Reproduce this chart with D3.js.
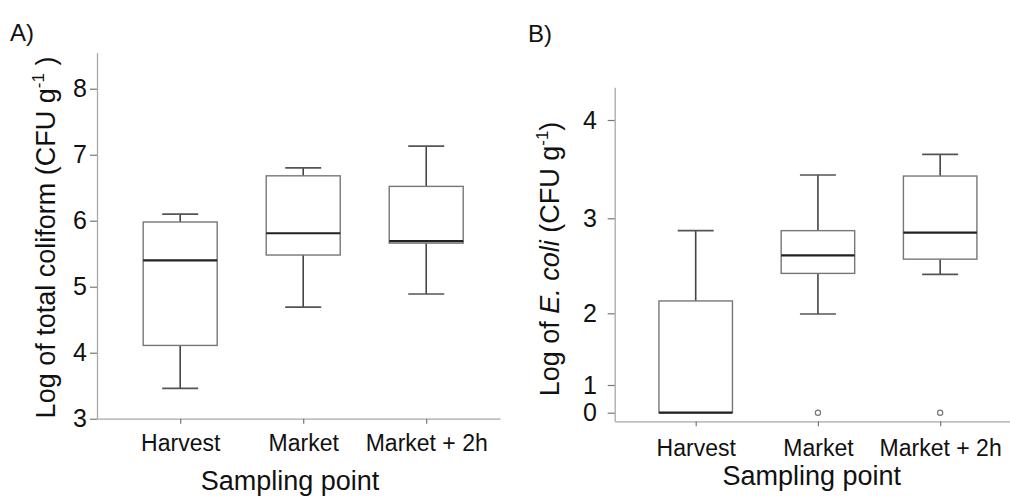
<!DOCTYPE html>
<html>
<head>
<meta charset="utf-8">
<script src="https://cdn.jsdelivr.net/npm/d3@7/dist/d3.min.js"></script>
<style>
  html, body { margin: 0; padding: 0; background: #fff; }
  svg { display: block; }
  text { font-family: "Liberation Sans", Arial, Helvetica, sans-serif; fill: #111; }
</style>
</head>
<body>
<svg id="chart" width="1010" height="500"></svg>
<script>
// Sampling points
const categories = ["Harvest", "Market", "Market + 2h"];

// Panel A: log total coliform (CFU g-1), five-number summaries
const coliformMin    = [3.46, 4.69, 4.89];
const coliformQ1     = [4.11, 5.48, 5.66];
const coliformMedian = [5.40, 5.81, 5.69];
const coliformQ3     = [5.98, 6.68, 6.52];
const coliformMax    = [6.10, 6.80, 7.13];
const coliformOutliers = [[], [], []];
const coliformTicks  = [3, 4, 5, 6, 7, 8];

// Panel B: log E. coli (CFU g-1), five-number summaries
const ecoliMin    = [0, 1.99, 2.41];
const ecoliQ1     = [0, 2.42, 2.57];
const ecoliMedian = [0, 2.61, 2.85];
const ecoliQ3     = [2.13, 2.87, 3.43];
const ecoliMax    = [2.87, 3.44, 3.65];
const ecoliOutliers = [[], [0], [0]];
const ecoliTicks  = [0, 1, 2, 3, 4];

const svg = d3.select("#chart");

function boxData(mins, q1s, meds, q3s, maxs, outs) {
  return categories.map((c, i) => ({
    cat: c, min: mins[i], q1: q1s[i], med: meds[i], q3: q3s[i], max: maxs[i], out: outs[i]
  }));
}

function drawPanel(opt) {
  const g = svg.append("g");
  const x = opt.x, y = opt.y;

  // axes
  const yAxis = d3.axisLeft(y).tickValues(opt.ticks).tickSize(7).tickSizeOuter(0)
    .tickPadding(opt.yPad).tickFormat(d3.format("d"));
  const ya = g.append("g").attr("transform", `translate(${opt.axisX},0)`).call(yAxis);
  ya.select(".domain").attr("stroke", "#a8a8a8").attr("stroke-width", 1.3);
  ya.selectAll(".tick line").attr("stroke", "#777").attr("stroke-width", 1.2);
  ya.selectAll(".tick text").attr("font-size", 25).attr("fill", "#111")
    .style("font-family", '"Liberation Sans", Arial, sans-serif');

  const xAxis = d3.axisBottom(x).tickSize(5).tickSizeOuter(0).tickPadding(opt.xPad);
  const xa = g.append("g").attr("transform", `translate(0,${opt.axisY})`).call(xAxis);
  xa.select(".domain").attr("stroke", "#a8a8a8").attr("stroke-width", 1.3);
  xa.selectAll(".tick line").attr("stroke", "#777").attr("stroke-width", 1.2);
  xa.selectAll(".tick text").attr("font-size", 23).attr("fill", "#111")
    .style("font-family", '"Liberation Sans", Arial, sans-serif');

  // boxes
  const bw = opt.boxWidth, cw = 36;
  const b = g.selectAll("g.box").data(opt.data).join("g").attr("class", "box");

  // whiskers
  b.append("line")
    .attr("x1", d => x(d.cat)).attr("x2", d => x(d.cat))
    .attr("y1", d => y(d.q3)).attr("y2", d => y(d.max))
    .attr("stroke", "#444").attr("stroke-width", 1.6)
    .attr("display", d => d.max > d.q3 ? null : "none");
  b.append("line")
    .attr("x1", d => x(d.cat) - cw / 2).attr("x2", d => x(d.cat) + cw / 2)
    .attr("y1", d => y(d.max)).attr("y2", d => y(d.max))
    .attr("stroke", "#555").attr("stroke-width", 1.6)
    .attr("display", d => d.max > d.q3 ? null : "none");
  b.append("line")
    .attr("x1", d => x(d.cat)).attr("x2", d => x(d.cat))
    .attr("y1", d => y(d.q1)).attr("y2", d => y(d.min))
    .attr("stroke", "#444").attr("stroke-width", 1.6)
    .attr("display", d => d.min < d.q1 ? null : "none");
  b.append("line")
    .attr("x1", d => x(d.cat) - cw / 2).attr("x2", d => x(d.cat) + cw / 2)
    .attr("y1", d => y(d.min)).attr("y2", d => y(d.min))
    .attr("stroke", "#555").attr("stroke-width", 1.6)
    .attr("display", d => d.min < d.q1 ? null : "none");

  // box body
  b.append("rect")
    .attr("x", d => x(d.cat) - bw / 2).attr("width", bw)
    .attr("y", d => y(d.q3)).attr("height", d => Math.max(0, y(d.q1) - y(d.q3)))
    .attr("fill", "#fff").attr("stroke", "#777").attr("stroke-width", 1.4);

  // median
  b.append("line")
    .attr("x1", d => x(d.cat) - bw / 2).attr("x2", d => x(d.cat) + bw / 2)
    .attr("y1", d => y(d.med)).attr("y2", d => y(d.med))
    .attr("stroke", "#222").attr("stroke-width", 2.2);

  // outliers
  b.selectAll("circle").data(d => d.out.map(v => ({ cat: d.cat, v })))
    .join("circle")
    .attr("cx", d => x(d.cat)).attr("cy", d => y(d.v)).attr("r", 2.6)
    .attr("fill", "#fff").attr("stroke", "#777").attr("stroke-width", 1.2);

  // panel tag
  g.append("text").attr("x", opt.tagX).attr("y", opt.tagY)
    .attr("font-size", 24).text(opt.tag);

  // x title
  g.append("text").attr("x", opt.xTitleX).attr("y", opt.xTitleY)
    .attr("text-anchor", "middle").attr("font-size", 27).text("Sampling point");

  // y title
  const yt = g.append("text")
    .attr("transform", `translate(${opt.yTitleX},${opt.yTitleY}) rotate(-90)`)
    .attr("text-anchor", "middle").attr("font-size", 27);
  opt.yTitle(yt);
}

// Panel A
const xA = d3.scalePoint().domain(categories).range([97, 500]).padding(0.638).align(0.53);
const yA = d3.scaleLinear().domain([3, 8.55]).range([418.7, 52.4]);
drawPanel({
  x: xA, y: yA, ticks: coliformTicks, axisX: 97, axisY: 418.7, yPad: 3, xPad: 10.7,
  boxWidth: 74,
  data: boxData(coliformMin, coliformQ1, coliformMedian, coliformQ3, coliformMax, coliformOutliers),
  tag: "A)", tagX: 10, tagY: 40.5,
  xTitleX: 290, xTitleY: 490,
  yTitleX: 55, yTitleY: 237.5,
  yTitle: t => {
    t.append("tspan").text("Log of total coliform (CFU g");
    t.append("tspan").attr("font-size", 17).attr("dy", -11).text("-1");
    t.append("tspan").attr("dy", 11).text(" )");
  }
});

// Panel B (compressed lower segment of the value axis)
const xB = d3.scalePoint().domain(categories).range([614.7, 1010]).padding(0.617).align(0.537);
const yB = d3.scaleLinear()
  .domain([-0.31, 0, 1, 2, 3, 4, 4.33])
  .range([421.3, 412.7, 385, 313.3, 218.3, 120, 87.3]);
drawPanel({
  x: xB, y: yB, ticks: ecoliTicks, axisX: 614.7, axisY: 421.3, yPad: 10.7, xPad: 13,
  boxWidth: 73.5,
  data: boxData(ecoliMin, ecoliQ1, ecoliMedian, ecoliQ3, ecoliMax, ecoliOutliers),
  tag: "B)", tagX: 528, tagY: 41.5,
  xTitleX: 811.7, xTitleY: 485,
  yTitleX: 559, yTitleY: 259,
  yTitle: t => {
    t.append("tspan").text("Log of ");
    t.append("tspan").attr("font-style", "italic").text("E. coli");
    t.append("tspan").text(" (CFU g");
    t.append("tspan").attr("font-size", 17).attr("dy", -11).text("-1");
    t.append("tspan").attr("dy", 11).text(")");
  }
});
</script>
</body>
</html>
